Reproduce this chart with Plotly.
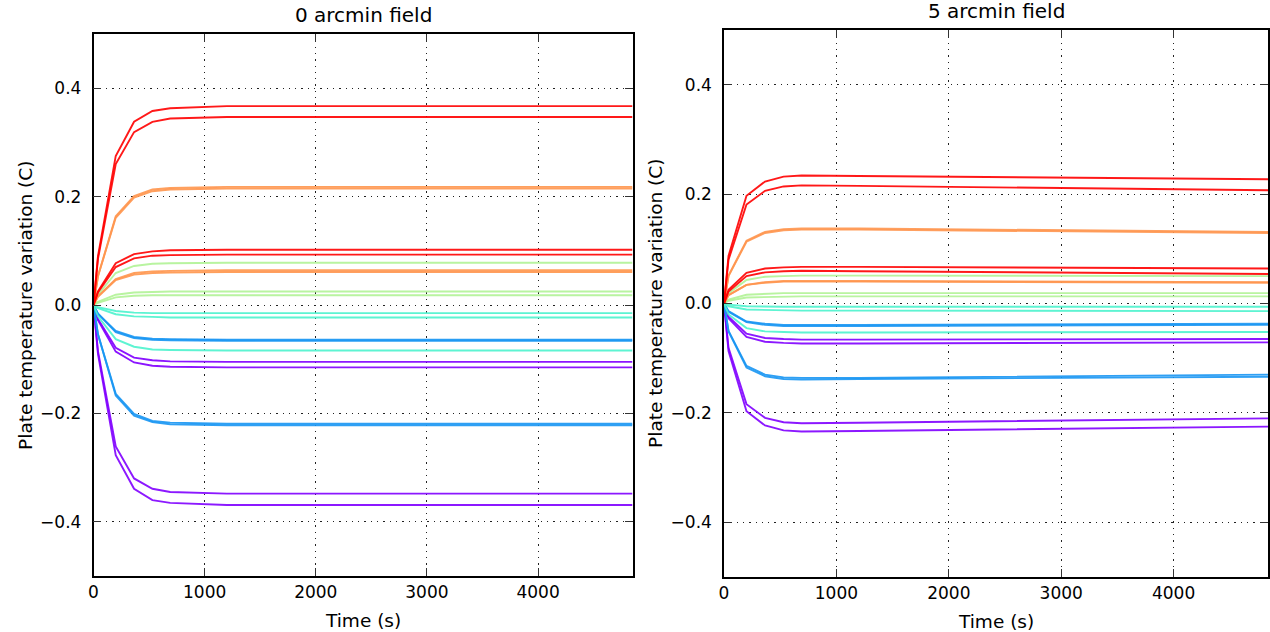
import plotly.graph_objects as go

# ---------------- data ----------------
time_s = [0, 40, 200, 365, 530, 690, 1200, 4850]

colors = ["#ff0000", "#ff964f", "#b2f396", "#4df3ce", "#1996f3", "#8000ff"]

# 0 arcmin field (left panel)
left_red = [
    [0, 0.090, 0.275, 0.338, 0.358, 0.363, 0.367, 0.367],
    [0, 0.085, 0.260, 0.319, 0.338, 0.344, 0.347, 0.347],
    [0, 0.025, 0.077, 0.094, 0.099, 0.101, 0.102, 0.102],
    [0, 0.023, 0.070, 0.086, 0.091, 0.092, 0.093, 0.093],
]
left_orange = [
    [0, 0.053, 0.164, 0.201, 0.213, 0.216, 0.218, 0.218],
    [0, 0.053, 0.161, 0.198, 0.210, 0.213, 0.215, 0.215],
    [0, 0.016, 0.048, 0.059, 0.062, 0.063, 0.064, 0.064],
    [0, 0.015, 0.046, 0.056, 0.059, 0.060, 0.061, 0.061],
]
left_green = [
    [0, 0.019, 0.059, 0.072, 0.076, 0.077, 0.078, 0.078],
    [0, 0.006, 0.019, 0.023, 0.024, 0.025, 0.025, 0.025],
    [0, 0.004, 0.014, 0.017, 0.018, 0.018, 0.018, 0.018],
]
left_cyan = [
    [0, -0.004, -0.011, -0.014, -0.015, -0.015, -0.015, -0.015],
    [0, -0.006, -0.017, -0.021, -0.022, -0.023, -0.023, -0.023],
    [0, -0.021, -0.063, -0.077, -0.082, -0.083, -0.084, -0.084],
]
left_blue = [
    [0, -0.016, -0.048, -0.059, -0.062, -0.063, -0.064, -0.064],
    [0, -0.016, -0.050, -0.061, -0.064, -0.065, -0.066, -0.066],
    [0, -0.054, -0.164, -0.201, -0.214, -0.217, -0.219, -0.219],
    [0, -0.054, -0.167, -0.204, -0.216, -0.220, -0.222, -0.222],
]
left_purple = [
    [0, -0.026, -0.079, -0.097, -0.102, -0.104, -0.105, -0.105],
    [0, -0.028, -0.086, -0.106, -0.112, -0.114, -0.115, -0.115],
    [0, -0.085, -0.261, -0.320, -0.339, -0.345, -0.348, -0.348],
    [0, -0.090, -0.277, -0.339, -0.360, -0.365, -0.369, -0.369],
]

# 5 arcmin field (right panel)
right_red = [
    [0, 0.087, 0.197, 0.223, 0.232, 0.234, 0.233, 0.227],
    [0, 0.080, 0.181, 0.206, 0.214, 0.216, 0.215, 0.207],
    [0, 0.025, 0.056, 0.064, 0.066, 0.067, 0.067, 0.064],
    [0, 0.022, 0.050, 0.057, 0.059, 0.060, 0.059, 0.054],
]
right_orange = [
    [0, 0.051, 0.115, 0.131, 0.136, 0.137, 0.137, 0.131],
    [0, 0.050, 0.113, 0.129, 0.134, 0.135, 0.135, 0.129],
    [0, 0.015, 0.034, 0.039, 0.041, 0.041, 0.041, 0.039],
    [0, 0.015, 0.034, 0.038, 0.040, 0.040, 0.040, 0.038],
]
right_green = [
    [0, 0.019, 0.043, 0.049, 0.050, 0.051, 0.051, 0.050],
    [0, 0.007, 0.016, 0.018, 0.019, 0.019, 0.019, 0.019],
    [0, 0.005, 0.011, 0.012, 0.013, 0.013, 0.013, 0.013],
]
right_cyan = [
    [0, -0.002, -0.005, -0.006, -0.006, -0.006, -0.006, -0.006],
    [0, -0.005, -0.011, -0.012, -0.013, -0.013, -0.013, -0.014],
    [0, -0.020, -0.045, -0.051, -0.052, -0.053, -0.053, -0.052],
]
right_blue = [
    [0, -0.014, -0.033, -0.037, -0.039, -0.039, -0.039, -0.037],
    [0, -0.015, -0.034, -0.039, -0.041, -0.041, -0.041, -0.039],
    [0, -0.050, -0.114, -0.130, -0.135, -0.136, -0.136, -0.130],
    [0, -0.051, -0.117, -0.133, -0.138, -0.139, -0.138, -0.134],
]
right_purple = [
    [0, -0.024, -0.055, -0.063, -0.065, -0.066, -0.066, -0.065],
    [0, -0.027, -0.061, -0.070, -0.072, -0.073, -0.073, -0.071],
    [0, -0.081, -0.184, -0.209, -0.217, -0.219, -0.218, -0.210],
    [0, -0.087, -0.197, -0.223, -0.232, -0.234, -0.233, -0.225],
]

x_ticks = [0, 1000, 2000, 3000, 4000]
y_ticks = [-0.4, -0.2, 0.0, 0.2, 0.4]
y_tick_text = ["\u22120.4", "\u22120.2", "0.0", "0.2", "0.4"]
titles = ["0 arcmin field", "5 arcmin field"]
x_title = "Time (s)"
y_title = "Plate temperature variation (C)"

# ---------------- figure ----------------
W, H = 1270, 632
FONT = "DejaVu Sans, Liberation Sans, sans-serif"

fig = go.Figure()

left_groups = [left_purple, left_blue, left_cyan, left_green, left_orange, left_red]
right_groups = [right_purple, right_blue, right_cyan, right_green, right_orange, right_red]
group_colors = [colors[5], colors[4], colors[3], colors[2], colors[1], colors[0]]

for groups, xa, ya in [(left_groups, "x", "y"), (right_groups, "x2", "y2")]:
    for grp, col in zip(groups, group_colors):
        for series in grp:
            fig.add_trace(go.Scatter(
                x=time_s, y=series, mode="lines", xaxis=xa, yaxis=ya,
                line=dict(color=col, width=1.9), opacity=0.9,
                showlegend=False, hoverinfo="skip",
            ))

# pixel geometry in screenshot coordinates
L1, R1, T1, B1 = 89, 631, 34, 576
L2, R2, T2, B2 = 723, 1270, 30, 577

def px_x(p):
    return p / W

def px_y(p):
    return 1 - p / H

axis_common = dict(
    showline=True, linecolor="black", linewidth=1.5, mirror="ticks",
    ticks="inside", ticklen=8, tickcolor="#333", tickwidth=1,
    showgrid=True, gridcolor="#222", gridwidth=1, griddash="1.3px,5px",
    zeroline=False, tickfont=dict(family=FONT, size=17, color="black"),
)

fig.update_layout(
    width=W, height=H,
    margin=dict(l=0, r=0, t=0, b=0),
    paper_bgcolor="white", plot_bgcolor="white",
    showlegend=False,
    xaxis=dict(domain=[px_x(L1), px_x(R1)], range=[0, 4850], tickvals=x_ticks,
               anchor="y", **axis_common),
    yaxis=dict(domain=[px_y(B1), px_y(T1)], range=[-0.5, 0.5], tickvals=y_ticks,
               ticktext=y_tick_text, anchor="x", ticklabelstandoff=7, **axis_common),
    xaxis2=dict(domain=[px_x(L2), px_x(R2)], range=[0, 4840], tickvals=x_ticks,
                anchor="y2", **axis_common),
    yaxis2=dict(domain=[px_y(B2), px_y(T2)], range=[-0.5, 0.5], tickvals=y_ticks,
                ticktext=y_tick_text, anchor="x2", ticklabelstandoff=7, **axis_common),
)

ann = []
for (L, R, T, B), title in zip([(L1, R1, T1, B1), (L2, R2, T2, B2)], titles):
    cx = (L + R) / 2
    ann.append(dict(text=title, x=px_x(cx), y=px_y(T - 5), xref="paper", yref="paper",
                    xanchor="center", yanchor="bottom", showarrow=False,
                    font=dict(family=FONT, size=20, color="black")))
    ann.append(dict(text=x_title, x=px_x(cx), y=px_y(B + 32), xref="paper", yref="paper",
                    xanchor="center", yanchor="top", showarrow=False,
                    font=dict(family=FONT, size=18.5, color="black")))
    ann.append(dict(text=y_title, x=px_x(L - 69), y=px_y((T + B) / 2), xref="paper", yref="paper",
                    xanchor="center", yanchor="middle", showarrow=False, textangle=-90,
                    font=dict(family=FONT, size=18.5, color="black")))
fig.update_layout(annotations=ann)

fig.write_html("out.html",
               config={"displayModeBar": False},
               post_script="document.body.style.margin='0px';document.body.style.overflow='hidden';")
